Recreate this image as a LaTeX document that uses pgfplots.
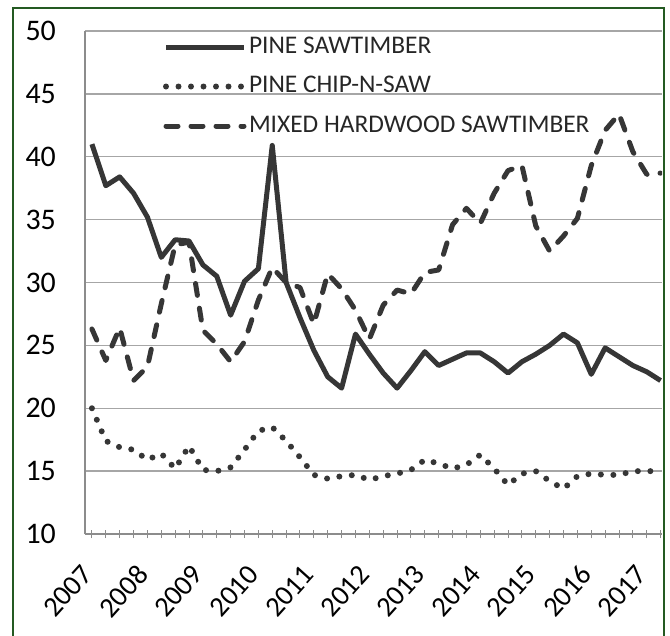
\documentclass[border=0pt]{standalone}
\usepackage{pgfplots}
\pgfplotsset{compat=1.18}
\usepackage{fontspec}
\setmainfont{Carlito}
\definecolor{ser}{HTML}{363636}
\definecolor{grd}{HTML}{A6A6A6}
\definecolor{axl}{HTML}{8C8C8C}
\definecolor{frm}{HTML}{245A22}
\begin{document}
\begin{tikzpicture}
\begin{axis}[
  at={(85bp,-534bp)}, anchor=south west,
  scale only axis, width=577bp, height=503bp,
  xmin=-0.5, xmax=41.1, ymin=10, ymax=50,
  ytick={10,15,...,50},
  xtick={0,4,...,40},
  xticklabels={2007,2008,2009,2010,2011,2012,2013,2014,2015,2016,2017},
  minor xtick={0,...,41},
  axis x line*=bottom, axis y line*=left,
  axis line style={axl, line width=1.4bp},
  ymajorgrids, grid style={grd, line width=1.3bp},
  ytick style={draw=none},
  xtick style={axl, line width=1bp},
  minor x tick style={axl, line width=1bp},
  tick align=center, major tick length=8bp, minor tick length=8bp,
  /pgf/number format/assume math mode=true,
  tick label style={text=black},
  yticklabel style={font=\fontsize{30}{30}\selectfont, inner sep=0pt, xshift=-25bp},
  xticklabel style={font=\fontsize{28.5}{28.5}\selectfont, xshift=-12bp, yshift=-25bp, rotate=48, anchor=north east, inner sep=0pt},
  legend image code/.code={\draw[#1] (0bp,0bp) -- (78bp,0bp);},
  legend cell align=left,
  legend style={at={(rel axis cs:0,1)}, anchor=north west, xshift=78bp, yshift=-3bp,
    draw=none, fill=none, inner sep=0pt, outer sep=0pt, row sep=13.5bp,
    font=\fontsize{25.5}{25.5}\selectfont, text=black!85,
    nodes={inner sep=2bp, text height=17bp, text depth=5bp}},
]
\addplot[ser, line width=5bp, line join=round] table[x=i,y=v] {
i v
0 41.0
1 37.7
2 38.4
3 37.1
4 35.2
5 32.0
6 33.4
7 33.3
8 31.4
9 30.5
10 27.4
11 30.1
12 31.1
13 40.9
14 30.0
15 27.2
16 24.6
17 22.5
18 21.6
19 25.9
20 24.3
21 22.8
22 21.6
23 23.0
24 24.5
25 23.4
26 23.9
27 24.4
28 24.4
29 23.7
30 22.8
31 23.7
32 24.3
33 25.0
34 25.9
35 25.2
36 22.7
37 24.8
38 24.1
39 23.4
40 22.9
41 22.2
};
\addlegendentry{PINE SAWTIMBER}
\addplot[ser, line width=6bp, line cap=round, dash pattern=on 0bp off 12.5bp] table[x=i,y=v] {
i v
0 20.0
1 17.4
2 16.9
3 16.7
4 15.9
5 16.4
6 15.2
7 17.0
8 15.1
9 15.0
10 15.3
11 16.7
12 18.2
13 18.5
14 17.4
15 16.1
16 14.7
17 14.4
18 14.6
19 14.7
20 14.3
21 14.6
22 14.8
23 15.1
24 15.9
25 15.6
26 15.2
27 15.5
28 16.3
29 15.2
30 13.9
31 14.8
32 15.0
33 14.2
34 13.6
35 14.6
36 14.8
37 14.7
38 14.7
39 15.0
40 15.0
41 15.0
};
\addlegendentry{PINE CHIP-N-SAW}
\addplot[ser, line width=5bp, line cap=round, line join=round, dash pattern=on 12bp off 13bp] table[x=i,y=v] {
i v
0 26.3
1 23.8
2 26.4
3 22.2
4 23.3
5 28.3
6 33.0
7 33.2
8 26.2
9 25.1
10 23.7
11 25.3
12 28.6
13 31.2
14 30.0
15 29.6
16 26.7
17 30.7
18 29.5
19 27.8
20 25.5
21 28.2
22 29.4
23 29.1
24 30.8
25 31.0
26 34.6
27 35.9
28 34.7
29 37.1
30 38.9
31 39.3
32 34.5
33 32.5
34 33.7
35 35.1
36 39.3
37 42.1
38 43.4
39 40.4
40 38.6
41 38.7
};
\addlegendentry{MIXED HARDWOOD SAWTIMBER}
\end{axis}
\draw[frm, line width=2bp] (13bp,-640bp) -- (13bp,-8bp) -- (664bp,-8bp) -- (664bp,-640bp);
\pgfresetboundingbox
\path (0bp,0bp) rectangle (670bp,-636bp);
\end{tikzpicture}
\end{document}
